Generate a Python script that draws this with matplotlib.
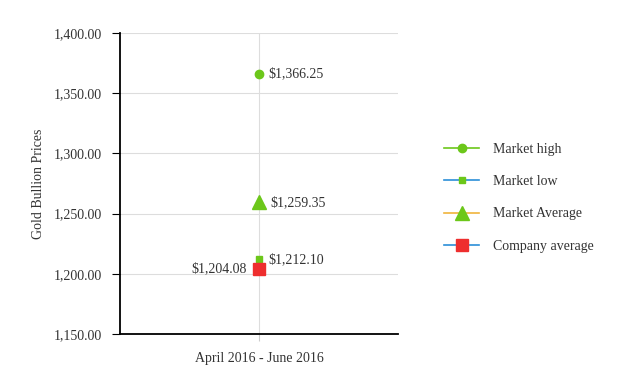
import matplotlib.pyplot as plt

plt.rcParams['font.family'] = ['Liberation Serif', 'DejaVu Serif']

category = "April 2016 - June 2016"
series_names = ["Market high", "Market low", "Market Average", "Company average"]
series_values = [1366.25, 1212.10, 1259.35, 1204.08]
value_labels = ["$1,366.25", "$1,212.10", "$1,259.35", "$1,204.08"]
y_ticks = [1150, 1200, 1250, 1300, 1350, 1400]

green = "#6cc71a"
red = "#ee2e2e"
blue = "#2b8fd8"
orange = "#f0b43c"
text_col = "#333333"

markers = ["o", "s", "^", "s"]
marker_colors = [green, green, green, red]
marker_sizes = [6, 4.5, 10, 9]
line_colors = [green, blue, orange, blue]
label_offsets = [7, 7, 8.5, -8.5]

fig = plt.figure(figsize=(6.33, 3.9), dpi=100)
ax = fig.add_axes([0.1896, 0.1436, 0.439, 0.7718])

for name, v, m, mc, ms, lc in zip(series_names, series_values, markers,
                                  marker_colors, marker_sizes, line_colors):
    ax.plot([0], [v], linestyle="none", marker=m, color=mc, markersize=ms, zorder=3)
    # legend proxy with line
    ax.plot([], [], color=lc, marker=m, markerfacecolor=mc, markeredgecolor=mc,
            markersize=ms, linewidth=1.2, label=name)

# data labels
for v, lab, off in zip(series_values, value_labels, label_offsets):
    ax.annotate(lab, (0, v), xytext=(off, 0), textcoords="offset points",
                ha="left" if off > 0 else "right", va="center",
                fontsize=10, color=text_col)

ax.set_xlim(-0.5, 0.5)
ax.set_ylim(1150, 1400)
ax.set_yticks(y_ticks)
ax.set_yticklabels([f"{t:,.2f}" for t in y_ticks], fontsize=10, color=text_col)
ax.set_xticks([0])
ax.set_xticklabels([category], fontsize=10, color=text_col)
ax.set_ylabel("Gold Bullion Prices", fontsize=10, labelpad=6, color=text_col)

ax.grid(True, color="#dddddd", linewidth=0.8)
ax.set_axisbelow(True)
for s in ["top", "right"]:
    ax.spines[s].set_visible(False)
for s in ["left", "bottom"]:
    ax.spines[s].set_linewidth(1.3)
    ax.spines[s].set_color("black")
ax.tick_params(axis="y", length=6, color="black", pad=7)
ax.tick_params(axis="x", length=5, color="#cccccc", pad=8)

leg = fig.legend(loc="upper left", bbox_to_anchor=(0.682, 0.665), frameon=False,
                 fontsize=10, handlelength=2.5, labelspacing=1.38, handletextpad=1.0)
for t in leg.get_texts():
    t.set_color(text_col)

fig.savefig("out.png", dpi=100)
